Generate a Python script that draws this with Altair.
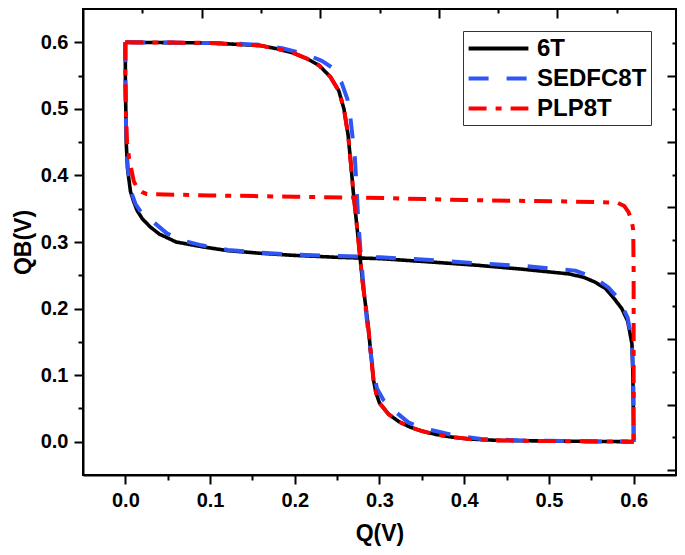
import altair as alt
import pandas as pd

# ---------------- data ----------------
SERIES = ["6T", "SEDFC8T", "PLP8T"]
COLORS = ["#000000", "#2F55F5", "#FF0000"]

# 6T : first transfer curve (QB vs Q)
t6_a_q = [0.0, 0.05, 0.10, 0.13, 0.16, 0.18, 0.198, 0.215, 0.229, 0.242, 0.252, 0.258, 0.263, 0.266,
          0.269, 0.272, 0.275, 0.280, 0.286, 0.290, 0.293, 0.296, 0.300, 0.311, 0.323, 0.336, 0.350,
          0.366, 0.385, 0.406, 0.44, 0.467, 0.52, 0.60]
t6_a_qb = [0.60, 0.5995, 0.599, 0.597, 0.595, 0.590, 0.584, 0.575, 0.565, 0.548, 0.527, 0.50, 0.46, 0.42,
           0.376, 0.34, 0.303, 0.24, 0.181, 0.13, 0.092, 0.073, 0.058, 0.041, 0.030, 0.022, 0.016,
           0.011, 0.007, 0.004, 0.002, 0.0015, 0.0008, 0.0]
# 6T : mirrored transfer curve
t6_b_q = [0.0, 0.0, 0.0005, 0.001, 0.0025, 0.006, 0.010, 0.014, 0.020, 0.029, 0.040, 0.060, 0.09, 0.121,
          0.16, 0.198, 0.25, 0.301, 0.36, 0.416, 0.47, 0.524, 0.541, 0.554, 0.567, 0.577, 0.586, 0.593,
          0.598, 0.599, 0.5995, 0.60]
t6_b_qb = [0.60, 0.55, 0.50, 0.45, 0.411, 0.376, 0.360, 0.347, 0.335, 0.323, 0.312, 0.300, 0.293, 0.287,
           0.283, 0.280, 0.277, 0.275, 0.270, 0.265, 0.259, 0.252, 0.247, 0.240, 0.230, 0.215, 0.200, 0.181,
           0.147, 0.108, 0.06, 0.0]

# SEDFC8T
se_a_q = [0.0, 0.05, 0.10, 0.13, 0.16, 0.185, 0.213, 0.232, 0.244, 0.255, 0.262, 0.265, 0.268, 0.271,
          0.273, 0.275, 0.278, 0.282, 0.287, 0.292, 0.297, 0.305, 0.316, 0.334, 0.350, 0.366, 0.39,
          0.42, 0.47, 0.52, 0.60]
se_a_qb = [0.60, 0.5995, 0.599, 0.598, 0.596, 0.591, 0.582, 0.572, 0.562, 0.54, 0.515, 0.494, 0.46, 0.425,
           0.38, 0.33, 0.28, 0.22, 0.16, 0.11, 0.08, 0.062, 0.048, 0.029, 0.021, 0.016, 0.009,
           0.004, 0.002, 0.001, 0.0]
se_b_q = [0.0, 0.0, 0.0005, 0.001, 0.003, 0.007, 0.012, 0.020, 0.035, 0.049, 0.065, 0.09, 0.121, 0.16,
          0.198, 0.25, 0.301, 0.36, 0.416, 0.47, 0.531, 0.553, 0.570, 0.582, 0.593, 0.598, 0.599, 0.60, 0.60]
se_b_qb = [0.60, 0.55, 0.50, 0.45, 0.41, 0.375, 0.357, 0.342, 0.328, 0.313, 0.303, 0.295, 0.288, 0.284,
           0.281, 0.279, 0.277, 0.273, 0.268, 0.264, 0.257, 0.247, 0.232, 0.215, 0.186, 0.15, 0.117, 0.06, 0.0]

# PLP8T
pl_a_q = [0.0, 0.05, 0.10, 0.13, 0.16, 0.18, 0.198, 0.215, 0.229, 0.242, 0.252, 0.258, 0.263, 0.266,
          0.269, 0.272, 0.275, 0.280, 0.286, 0.290, 0.293, 0.296, 0.300, 0.311, 0.323, 0.336, 0.350,
          0.366, 0.385, 0.406, 0.44, 0.467, 0.52, 0.60]
pl_a_qb = [0.60, 0.5995, 0.599, 0.597, 0.595, 0.590, 0.584, 0.575, 0.565, 0.548, 0.527, 0.50, 0.46, 0.42,
           0.376, 0.34, 0.303, 0.24, 0.181, 0.13, 0.092, 0.073, 0.058, 0.041, 0.030, 0.022, 0.016,
           0.011, 0.007, 0.004, 0.002, 0.0015, 0.0008, 0.0]
pl_b_q = [0.0, 0.0, 0.0005, 0.002, 0.0045, 0.010, 0.014, 0.020, 0.0255, 0.10, 0.20, 0.305, 0.40, 0.455,
          0.52, 0.581, 0.589, 0.594, 0.598, 0.5995, 0.60, 0.60, 0.60]
pl_b_qb = [0.60, 0.55, 0.50, 0.45, 0.425, 0.391, 0.381, 0.375, 0.372, 0.370, 0.368, 0.366, 0.363, 0.362,
           0.361, 0.359, 0.354, 0.345, 0.33, 0.318, 0.254, 0.10, 0.0]

# axis tick values (major + minor)
x_ticks = [0.0, 0.05, 0.1, 0.15, 0.2, 0.25, 0.3, 0.35, 0.4, 0.45, 0.5, 0.55, 0.6]
y_ticks = [0.0, 0.05, 0.1, 0.15, 0.2, 0.25, 0.3, 0.35, 0.4, 0.45, 0.5, 0.55, 0.6]
# secondary (unlabelled) top and right axes
top_domain = [0, 5]
top_ticks = [0.5, 1, 1.5, 2, 2.5, 3, 3.5, 4, 4.5]
right_domain = [-0.073, 7.022]
right_ticks = [0, 0.5, 1, 1.5, 2, 2.5, 3, 3.5, 4, 4.5, 5, 5.5, 6, 6.5]

# ---------------- build table ----------------
rows = []
def add(series, branch, qs, qbs):
    for i, (q, qb) in enumerate(zip(qs, qbs)):
        rows.append({"series": series, "branch": series + branch, "idx": i, "q": q, "qb": qb})

add("6T", "a", t6_a_q, t6_a_qb)
add("6T", "b", t6_b_q, t6_b_qb)
add("SEDFC8T", "a", se_a_q, se_a_qb)
add("SEDFC8T", "b", se_b_q, se_b_qb)
add("PLP8T", "a", pl_a_q, pl_a_qb)
add("PLP8T", "b", pl_b_q, pl_b_qb)
df = pd.DataFrame(rows)

CW, CH = 669, 539   # whole chart (autosize fit)
FONT = "Liberation Sans"

major_test = "round(datum.value*100) % 10 === 0"
common = dict(grid=False, labelFontSize=20, labelFontWeight="bold", labelFont=FONT,
              labelColor="black", labelPadding=6, titleFontSize=23, titleFontWeight="bold",
              titleFont=FONT, titleColor="black", domainColor="black",
              domainWidth=2, tickColor="black", tickWidth=2, labelFlush=False, labelOverlap=False,
              labelExpr=f"{major_test} ? format(datum.value, '.1f') : ''",
              tickSize={"condition": {"test": major_test, "value": 9}, "value": 5})
x_axis = alt.Axis(values=x_ticks, titlePadding=12, **common)
y_axis = alt.Axis(values=y_ticks, titlePadding=5, **common)

color_scale = alt.Scale(domain=SERIES, range=COLORS)
dash_scale = alt.Scale(domain=SERIES, range=[[1, 0], [20, 18], [18, 9, 6, 9]])

def lines(name, width):
    return alt.Chart(df).transform_filter(alt.datum.series == name).mark_line(
        strokeWidth=width, strokeCap="butt", strokeJoin="round", clip=True
    ).encode(
        x=alt.X("q:Q", scale=alt.Scale(domain=[-0.05, 0.65], nice=False, zero=False),
                axis=x_axis, title="Q(V)"),
        y=alt.Y("qb:Q", scale=alt.Scale(domain=[-0.05, 0.65], nice=False, zero=False),
                axis=y_axis, title="QB(V)"),
        color=alt.Color("series:N", scale=color_scale, title=None),
        strokeDash=alt.StrokeDash("series:N", scale=dash_scale, title=None),
        detail="branch:N",
        order="idx:Q",
    )

main = alt.layer(lines("6T", 3.6), lines("SEDFC8T", 4), lines("PLP8T", 4))

# inward ticks on top / right: axis moved 9px inside, minor ticks dashed so only the
# outer 4px show
sec_test = "abs(datum.value - round(datum.value)) < 0.01"
sec_common = dict(labels=False, domain=False, grid=False, title=None, tickColor="black",
                  tickWidth=2, tickSize=9, offset=-9,
                  tickDash={"condition": {"test": sec_test, "value": [9, 0]}, "value": [0, 5, 4, 0]})
dummy_df = pd.DataFrame({"tx": top_domain, "ry": right_domain})
dummy = alt.Chart(dummy_df).mark_point(size=0, opacity=0).encode(
    x=alt.X("tx:Q", scale=alt.Scale(domain=top_domain, nice=False, zero=False),
            axis=alt.Axis(orient="top", values=top_ticks, **sec_common)),
    y=alt.Y("ry:Q", scale=alt.Scale(domain=right_domain, nice=False, zero=False),
            axis=alt.Axis(orient="right", values=right_ticks, **sec_common)),
)

chart = alt.layer(main, dummy).resolve_scale(
    x="independent", y="independent"
).properties(
    width=CW, height=CH, background="white",
    padding={"left": 4, "top": 0, "right": 0, "bottom": 2},
    autosize=alt.AutoSizeParams(type="fit", contains="padding"),
).configure_view(
    stroke="black", strokeWidth=2
).configure_legend(
    orient="none", legendX=380, legendY=22, direction="vertical",
    strokeColor="#333333", fillColor="white", padding=4,
    symbolType="M-2.6,0H2.6", symbolSize=529, symbolStrokeWidth=4, symbolOffset=18,
    labelFont=FONT, labelFontSize=24, labelFontWeight="bold", labelColor="black",
    labelOffset=25, rowPadding=4, labelLimit=300
)

chart.save("out.html", embed_options={"renderer": "svg", "actions": False})
